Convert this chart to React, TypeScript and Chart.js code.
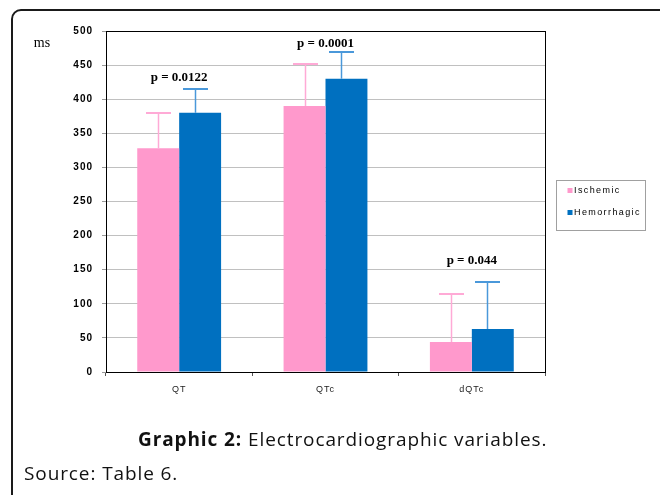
import React, { useEffect, useRef } from "react";
import { Chart, registerables } from "chart.js";

Chart.register(...registerables);

const categories = ["QT", "QTc", "dQTc"];
const seriesNames = ["Ischemic", "Hemorrhagic"];
const ischemic = [328, 390, 44];
const hemorrhagic = [380, 430, 63];
const ischemicSD = [52, 61, 70];
const hemorrhagicSD = [35, 39, 69];
const pValues = ["p = 0.0122", "p = 0.0001", "p = 0.044"];
const pValueAt = [431, 482, 163];
const yMin = 0;
const yMax = 500;
const yStep = 50;
const unitLabel = "ms";

const barColors = ["#ff99cc", "#0070c0"];
const errColors = ["#ffaad6", "#4a98da"];
const errOffsets = [0, -5.5];

const errorBarsPlugin = {
  id: "errorBars",
  afterDatasetsDraw(chart: any) {
    const ctx = chart.ctx;
    const yScale = chart.scales.y;
    const sds = [ischemicSD, hemorrhagicSD];
    chart.data.datasets.forEach((ds: any, i: number) => {
      const meta = chart.getDatasetMeta(i);
      meta.data.forEach((el: any, j: number) => {
        const v = ds.data[j];
        const x = Math.round(el.x + errOffsets[i]) + 0.5;
        const yTop = el.y;
        const yCap = Math.round(yScale.getPixelForValue(v + sds[i][j]));
        ctx.save();
        ctx.strokeStyle = errColors[i];
        ctx.lineWidth = 1.5;
        ctx.beginPath();
        ctx.moveTo(x, yTop);
        ctx.lineTo(x, yCap);
        ctx.stroke();
        ctx.lineWidth = 2;
        ctx.beginPath();
        ctx.moveTo(x - 12.5, yCap);
        ctx.lineTo(x + 12.5, yCap);
        ctx.stroke();
        ctx.restore();
      });
    });
  },
};

const decorPlugin = {
  id: "decor",
  beforeDraw(chart: any) {
    chart.ctx.letterSpacing = "1px";
  },
  afterDraw(chart: any) {
    const ctx = chart.ctx;
    const area = chart.chartArea;
    const xScale = chart.scales.x;
    const yScale = chart.scales.y;
    ctx.save();
    ctx.letterSpacing = "0px";
    // plot border
    ctx.strokeStyle = "#000";
    ctx.lineWidth = 1;
    ctx.strokeRect(Math.round(area.left) + 0.5, Math.round(area.top) + 0.5,
      Math.round(area.right - area.left), Math.round(area.bottom - area.top));
    // p-values
    ctx.fillStyle = "#000";
    ctx.font = "bold 13px 'Liberation Serif', 'Times New Roman', serif";
    ctx.textAlign = "center";
    ctx.textBaseline = "middle";
    pValues.forEach((p, j) => {
      ctx.fillText(p, xScale.getPixelForValue(j), yScale.getPixelForValue(pValueAt[j]));
    });
    // unit label
    ctx.font = "14px 'Liberation Serif', 'Times New Roman', serif";
    ctx.textAlign = "center";
    ctx.fillText(unitLabel, area.left - 64, area.top + 12);
    // legend
    const lx = area.right + 11.5;
    const ly = area.top + 149.5;
    ctx.strokeStyle = "#a0a0a0";
    ctx.lineWidth = 1;
    ctx.strokeRect(lx, ly, 89, 50);
    ctx.font = "9px 'Liberation Sans', Arial, sans-serif";
    ctx.letterSpacing = "1.4px";
    ctx.textAlign = "left";
    chart.data.datasets.forEach((ds: any, i: number) => {
      const cy = ly + 10.5 + i * 22;
      ctx.fillStyle = ds.backgroundColor;
      ctx.fillRect(lx + 11, cy - 3, 5, 5);
      ctx.fillStyle = "#000";
      ctx.fillText(ds.label, lx + 17.5, cy);
    });
    ctx.restore();
    ctx.letterSpacing = "0px";
  },
};

export default function App() {
  const ref = useRef<HTMLCanvasElement>(null);
  useEffect(() => {
    if (!ref.current) return;
    const chart = new Chart(ref.current, {
      type: "bar",
      data: {
        labels: categories,
        datasets: [
          { label: seriesNames[0], data: ischemic, backgroundColor: barColors[0], borderWidth: 0 },
          { label: seriesNames[1], data: hemorrhagic, backgroundColor: barColors[1], borderWidth: 0 },
        ],
      },
      options: {
        animation: false,
        responsive: false,
        devicePixelRatio: 1,
        layout: { padding: { left: 0, right: 115, top: 31, bottom: 93 } },
        datasets: { bar: { categoryPercentage: 0.573, barPercentage: 1 } },
        plugins: { legend: { display: false }, tooltip: { enabled: false }, title: { display: false } },
        scales: {
          x: {
            afterFit: (s: any) => { s.height = 30; },
            grid: { drawOnChartArea: false, drawTicks: true, tickLength: 4, tickColor: "#555", offset: true },
            border: { color: "#000", width: 1 },
            ticks: { color: "#222", padding: 8, font: { family: "'Liberation Sans', Arial, sans-serif", size: 9 } },
          },
          y: {
            min: yMin,
            max: yMax,
            afterFit: (s: any) => { s.width = 106; },
            grid: { color: "#c0c0c0", tickColor: "#999", tickLength: 4, lineWidth: 1 },
            border: { color: "#000", width: 1 },
            ticks: {
              stepSize: yStep,
              color: "#000",
              padding: 9,
              font: { family: "'Liberation Sans', Arial, sans-serif", size: 10, weight: "bold" },
            },
          },
        },
      },
      plugins: [errorBarsPlugin, decorPlugin],
    });
    return () => chart.destroy();
  }, []);

  const textStyle: React.CSSProperties = {
    position: "absolute",
    fontFamily: "'Open Sans', sans-serif",
    fontSize: 19,
    lineHeight: "26px",
    letterSpacing: "0.9px",
    color: "#111",
    whiteSpace: "nowrap",
  };

  return (
    <div style={{ position: "absolute", left: 0, top: 0, width: 660, height: 495, overflow: "hidden", background: "#fff" }}>
      <canvas ref={ref} width={660} height={495} style={{ position: "absolute", left: 0, top: 0, width: 660, height: 495 }} />
      <div style={{ position: "absolute", left: 11, top: 9, width: 700, height: 540, border: "2px solid #1a1a1a", borderRadius: 10, boxSizing: "border-box" }} />
      <div style={{ ...textStyle, left: 138, top: 426 }}>
        <b>Graphic 2:</b> Electrocardiographic variables.
      </div>
      <div style={{ ...textStyle, left: 24, top: 460 }}>
        Source: Table 6.
      </div>
    </div>
  );
}
